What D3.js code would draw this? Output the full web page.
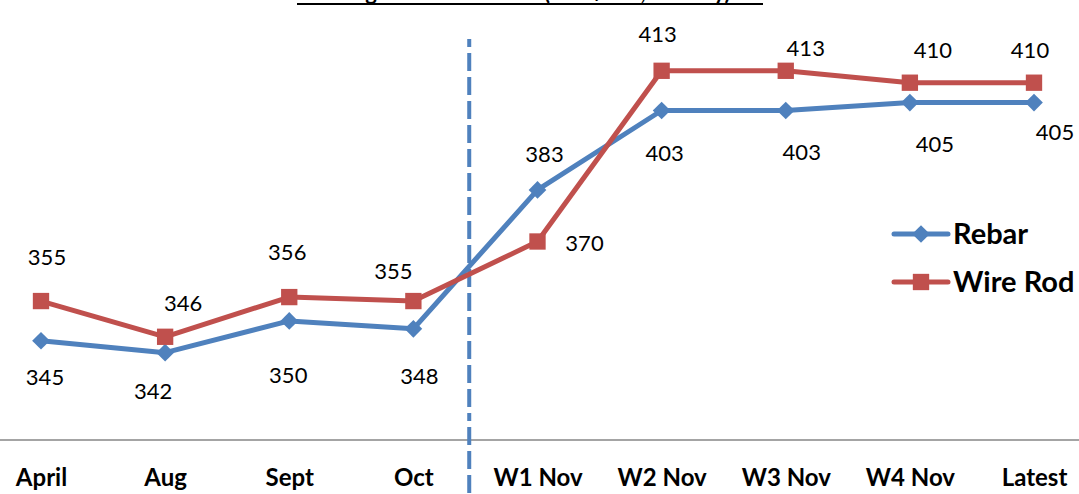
<!DOCTYPE html>
<html>
<head>
<meta charset="utf-8">
<script src="https://cdn.jsdelivr.net/npm/d3@7/dist/d3.min.js"></script>
<style>
  html, body { margin: 0; padding: 0; background: #fff; }
  svg { display: block; }
  text { font-family: Lato, "Open Sans", sans-serif; }
</style>
</head>
<body>
<svg id="chart" width="1079" height="494"></svg>
<script>
// Longsteel prices by period
const categories = ["April", "Aug", "Sept", "Oct", "W1 Nov", "W2 Nov", "W3 Nov", "W4 Nov", "Latest"];
const rebar = [345, 342, 350, 348, 383, 403, 403, 405, 405];
const wireRod = [355, 346, 356, 355, 370, 413, 413, 410, 410];
const seriesNames = ["Rebar", "Wire Rod"];
const titleText = "Longsteel Price Trend (USD/Ton, Weekly)";

// label offsets (dx, dy) relative to each point
const rebarLabelOffset = [[4, 44], [-12, 46], [-1, 62], [6, 55], [7, -28], [3, 51], [16, 50], [25, 49], [21, 37]];
const wireLabelOffset = [[6, -36], [18, -26], [-2, -37], [-20, -22], [47, 9], [-4, -29], [20, -15], [23, -25], [-4, -25]];

const W = 1079, H = 494;
const blue = "#4F81BD", red = "#C0504D";
const svg = d3.select("#chart");

const x = d3.scalePoint().domain(categories).range([41, 1034]);
const y = d3.scaleLinear().domain([320, 430]).range([440, 3.3]);

// title, mostly above the top edge
svg.append("text")
  .attr("x", 530).attr("y", 0)
  .attr("text-anchor", "middle")
  .attr("font-weight", "bold").attr("font-size", 22)
  .text(titleText);
svg.append("line")
  .attr("x1", 297).attr("x2", 763).attr("y1", 4).attr("y2", 4)
  .attr("stroke", "#000").attr("stroke-width", 2);

// category axis
const xAxis = d3.axisBottom(x).tickSize(0).tickPadding(0);
const gx = svg.append("g").attr("transform", `translate(0,${y(320)})`).call(xAxis);
gx.select(".domain").remove();
gx.selectAll("text")
  .attr("dy", 0).attr("y", 46)
  .attr("font-family", "Lato, 'Open Sans', sans-serif")
  .attr("font-weight", "bold").attr("font-size", 24).attr("fill", "#000");
svg.append("line")
  .attr("x1", 0).attr("x2", W).attr("y1", y(320)).attr("y2", y(320))
  .attr("stroke", "#868686").attr("stroke-width", 1.5);

// divider between monthly and weekly periods
const step = x.step();
const divX = x("Oct") + step * 0.45;
svg.append("line")
  .attr("x1", divX).attr("x2", divX).attr("y1", 39).attr("y2", H)
  .attr("stroke", blue).attr("stroke-width", 4)
  .attr("stroke-dasharray", "8,6,18,6,18,6,18,6,18,6,18,6,18,6,18,6,18,6,18,6,18,6,18,6,18,6,18,6,18,6,18,6");

const line = d3.line().x((d, i) => x(categories[i])).y(d => y(d));

function drawSeries(values, color, symbolType, size, offsets) {
  svg.append("path").datum(values)
    .attr("d", line).attr("fill", "none")
    .attr("stroke", color).attr("stroke-width", 5).attr("stroke-linejoin", "round");
  svg.append("g").selectAll("path").data(values).join("path")
    .attr("transform", (d, i) => `translate(${x(categories[i])},${y(d)})`)
    .attr("d", d3.symbol().type(symbolType).size(size))
    .attr("fill", color);
  svg.append("g").selectAll("text").data(values).join("text")
    .attr("x", (d, i) => x(categories[i]) + offsets[i][0])
    .attr("y", (d, i) => y(d) + offsets[i][1])
    .attr("text-anchor", "middle")
    .attr("font-size", 22).attr("fill", "#000")
    .text(d => d);
}

drawSeries(rebar, blue, d3.symbolDiamond2, 200, rebarLabelOffset);
drawSeries(wireRod, red, d3.symbolSquare2, 340, wireLabelOffset);

// legend
const legend = svg.append("g");
const legendItems = [
  { name: seriesNames[0], color: blue, sym: d3.symbolDiamond2, size: 200, y: 234 },
  { name: seriesNames[1], color: red, sym: d3.symbolSquare2, size: 340, y: 282 }
];
legendItems.forEach(it => {
  legend.append("line")
    .attr("x1", 894).attr("x2", 948).attr("y1", it.y).attr("y2", it.y)
    .attr("stroke", it.color).attr("stroke-width", 5).attr("stroke-linecap", "round");
  legend.append("path")
    .attr("transform", `translate(921,${it.y})`)
    .attr("d", d3.symbol().type(it.sym).size(it.size))
    .attr("fill", it.color);
  legend.append("text")
    .attr("x", 953).attr("y", it.y + 10)
    .attr("font-weight", "bold").attr("font-size", 29).attr("fill", "#000")
    .text(it.name);
});
</script>
</body>
</html>
